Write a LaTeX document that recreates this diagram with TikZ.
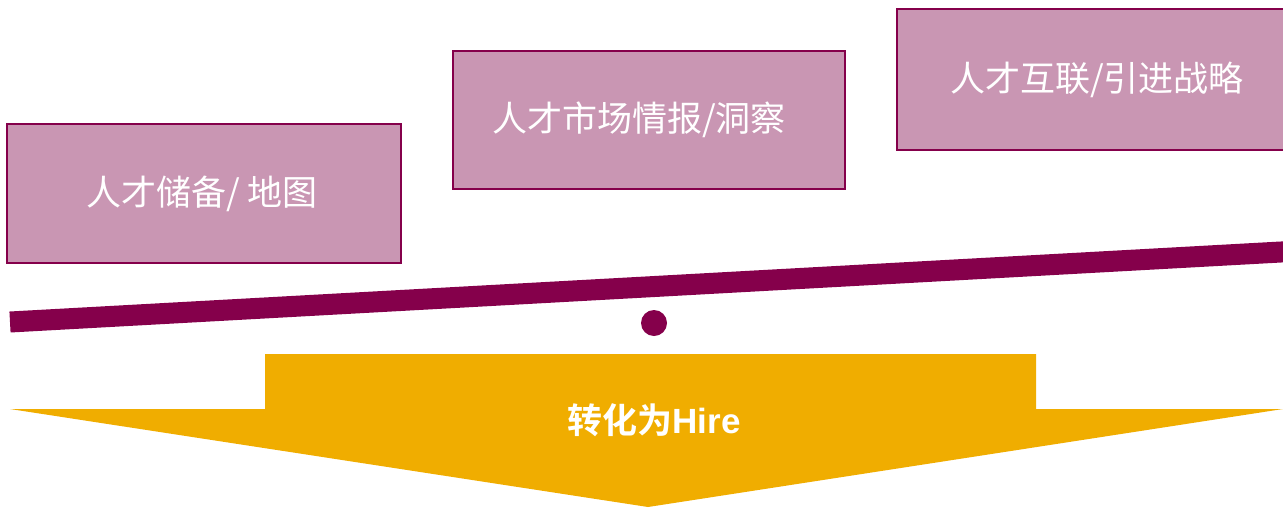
\documentclass[tikz,border=0pt]{standalone}
\usepackage{fontspec}
\setmainfont{Noto Sans CJK SC}
\newfontfamily\cjkbold{Noto Sans CJK SC Bold}
\newfontfamily\latinbold{Liberation Sans Bold}
\definecolor{boxfill}{HTML}{C996B3}
\definecolor{plum}{HTML}{85004B}
\definecolor{gold}{HTML}{F0AD00}
\tikzset{
  infobox/.style={draw=plum, line width=1.5pt, fill=boxfill, text=white,
    font=\fontsize{35}{40}\selectfont, inner sep=0pt, anchor=center},
  beam/.style={draw=plum, line width=21pt, line cap=butt},
}
\begin{document}
\begin{tikzpicture}[x=1pt,y=-1pt]
\useasboundingbox (0,0) rectangle (1283,507);
\clip (0,0) rectangle (1283,507);
\node[infobox, minimum width=394pt, minimum height=139pt] (b1) at (204,193.5) {人才储备/ 地图\kern4pt};
\node[infobox, minimum width=392pt, minimum height=138pt] (b2) at (649,120) {人才市场情报/洞察\kern20pt};
\node[infobox, minimum width=400pt, minimum height=141pt] (b3) at (1097,79.5) {人才互联/引进战略};
\coordinate (bl) at (10,322);
\coordinate (br) at (1290,251.5);
\draw[beam] (bl) -- (br);
\fill[plum] (654,323) circle (13);
\fill[gold] (265,354) -- (1036,354) -- (1036,409) -- (1283,409) -- (648,507) -- (10,409) -- (265,409) -- cycle;
\node[text=white, font=\cjkbold\fontsize{35}{40}\selectfont] (hire) at (654,420) {转化为{\latinbold Hire}};
\end{tikzpicture}
\end{document}
